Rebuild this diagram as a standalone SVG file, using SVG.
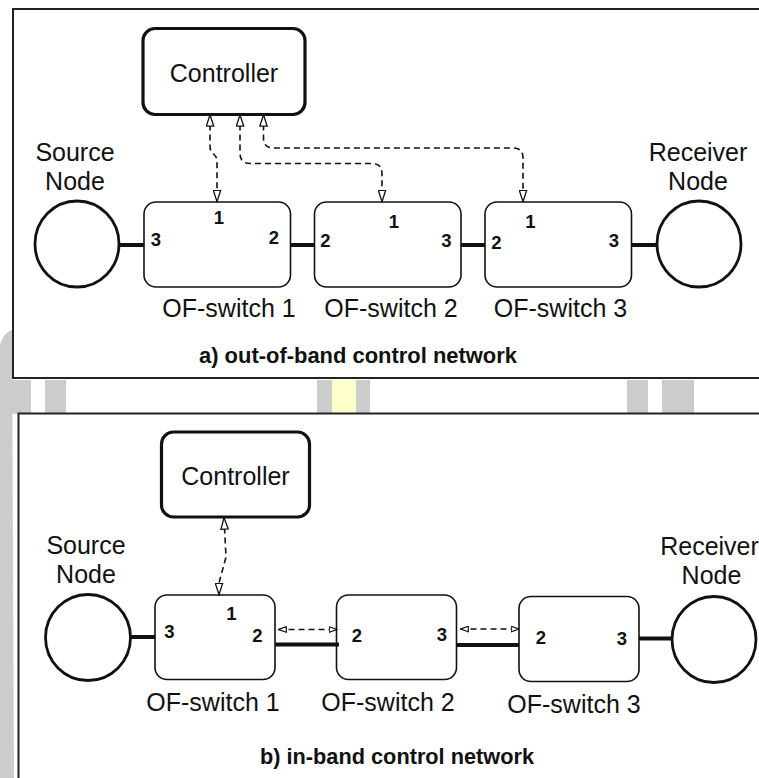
<svg xmlns="http://www.w3.org/2000/svg" width="759" height="778" viewBox="0 0 759 778">
  <style>
    .frame { fill: #ffffff; stroke: #222222; stroke-width: 2; }
    .ctrl { fill: #ffffff; stroke: #111111; stroke-width: 3.2; }
    .sw { fill: #ffffff; stroke: #111111; stroke-width: 1.6; }
    .host { fill: #ffffff; stroke: #111111; stroke-width: 2.8; }
    .link { stroke: #111111; stroke-width: 4; fill: none; }
    .ctl { fill: none; stroke: #111111; stroke-width: 1.6; stroke-dasharray: 6 4; }
    text { font-family: "Liberation Sans", Arial, sans-serif; fill: #111111; }
    .lbl { font-size: 25px; text-anchor: middle; }
    .port { font-size: 18.5px; font-weight: bold; text-anchor: middle; }
    .cap { font-size: 22px; font-weight: bold; text-anchor: middle; }
    .bar { fill: #cccccc; }
  </style>
  <defs>
    <marker id="open" viewBox="0 0 13 9" refX="12.5" refY="4.5" markerWidth="13" markerHeight="9" markerUnits="userSpaceOnUse" orient="auto-start-reverse">
      <path d="M0.8,0.8 L12.2,4.5 L0.8,8.2 Z" fill="#ffffff" stroke="#111111" stroke-width="1.3"/>
    </marker>
    <marker id="openSmall" viewBox="0 0 9 7" refX="8.5" refY="3.5" markerWidth="9" markerHeight="7" markerUnits="userSpaceOnUse" orient="auto-start-reverse">
      <path d="M0.7,0.7 L8.3,3.5 L0.7,6.3 Z" fill="#ffffff" stroke="#111111" stroke-width="1.2"/>
    </marker>
  </defs>

  <!-- background page bars -->
  <g id="background">
    <rect x="0" y="0" width="759" height="778" fill="#ffffff"/>
    <path class="bar" d="M0,345 Q4,332 12,330 L14,778 L0,778 Z"/>
    <rect class="bar" x="12" y="380" width="19" height="34"/>
    <rect class="bar" x="45" y="380" width="21" height="34"/>
    <rect class="bar" x="317" y="380" width="53" height="34"/>
    <rect x="332" y="380" width="24" height="34" fill="#ffffcc"/>
    <rect class="bar" x="627" y="380" width="21" height="34"/>
    <rect class="bar" x="662" y="380" width="32" height="34"/>
  </g>

  <!-- panel a: out-of-band -->
  <g id="panel-a">
    <rect class="frame" x="13" y="9" width="760" height="369"/>

    <g id="a-controller">
      <rect class="ctrl" x="143" y="28.5" width="162" height="86" rx="12"/>
      <text class="lbl" x="224" y="82">Controller</text>
    </g>
    <g id="a-source">
      <ellipse class="host" cx="77" cy="244" rx="42" ry="43"/>
      <text class="lbl" x="75" y="161">Source</text>
      <text class="lbl" x="75" y="190">Node</text>
    </g>
    <g id="a-receiver">
      <ellipse class="host" cx="699" cy="244" rx="42" ry="43"/>
      <text class="lbl" x="698" y="161">Receiver</text>
      <text class="lbl" x="698" y="190">Node</text>
    </g>
    <g id="a-switch1">
      <rect class="sw" x="144" y="202" width="146.5" height="85" rx="12"/>
      <text class="port" x="219" y="223.5">1</text>
      <text class="port" x="156" y="245.5">3</text>
      <text class="port" x="274" y="244">2</text>
      <text class="lbl" x="229" y="317">OF-switch 1</text>
    </g>
    <g id="a-switch2">
      <rect class="sw" x="314.5" y="202" width="146.5" height="85" rx="12"/>
      <text class="port" x="394" y="227.5">1</text>
      <text class="port" x="325.5" y="246.5">2</text>
      <text class="port" x="446.5" y="246.5">3</text>
      <text class="lbl" x="391" y="317">OF-switch 2</text>
    </g>
    <g id="a-switch3">
      <rect class="sw" x="485" y="202" width="146.5" height="85" rx="12"/>
      <text class="port" x="530.5" y="227.5">1</text>
      <text class="port" x="496.5" y="248.5">2</text>
      <text class="port" x="614" y="246.5">3</text>
      <text class="lbl" x="560.5" y="317">OF-switch 3</text>
    </g>

    <g id="a-connectors">
      <path class="link" d="M119,245 H144"/>
      <path class="link" d="M290.5,245 H314.5"/>
      <path class="link" d="M461,245 H485"/>
      <path class="link" d="M631.5,245 H657"/>
      <path class="ctl" d="M210,114.5 V146 C210,156 217,152 217,162 V202" marker-start="url(#open)" marker-end="url(#open)"/>
      <path class="ctl" d="M240,114.5 V153 Q240,163.5 250,163.5 H372 Q382,163.5 382,173.5 V202" marker-start="url(#open)" marker-end="url(#open)"/>
      <path class="ctl" d="M263.5,114.5 V138 Q263.5,148 273.5,148 H513 Q523,148 523,158 V202" marker-start="url(#open)" marker-end="url(#open)"/>
    </g>

    <text class="cap" x="358" y="363" textLength="318" lengthAdjust="spacingAndGlyphs">a) out-of-band control network</text>
  </g>

  <!-- panel b: in-band -->
  <g id="panel-b">
    <rect class="frame" x="18.5" y="413.5" width="760" height="380"/>

    <g id="b-controller">
      <rect class="ctrl" x="161.5" y="432" width="148" height="85" rx="12"/>
      <text class="lbl" x="235.5" y="485">Controller</text>
    </g>
    <g id="b-source">
      <ellipse class="host" cx="88" cy="637.5" rx="42.5" ry="43"/>
      <text class="lbl" x="86" y="554">Source</text>
      <text class="lbl" x="86" y="583">Node</text>
    </g>
    <g id="b-receiver">
      <ellipse class="host" cx="714" cy="639.5" rx="42" ry="43"/>
      <text class="lbl" x="709.5" y="555">Receiver</text>
      <text class="lbl" x="711.5" y="583.5">Node</text>
    </g>
    <g id="b-switch1">
      <rect class="sw" x="155" y="595" width="120" height="84.5" rx="12"/>
      <text class="port" x="231.5" y="620">1</text>
      <text class="port" x="169.5" y="637.5">3</text>
      <text class="port" x="257.5" y="642">2</text>
      <text class="lbl" x="213" y="711">OF-switch 1</text>
    </g>
    <g id="b-switch2">
      <rect class="sw" x="336.5" y="595" width="120" height="84.5" rx="12"/>
      <text class="port" x="357" y="642">2</text>
      <text class="port" x="442" y="641">3</text>
      <text class="lbl" x="388" y="711">OF-switch 2</text>
    </g>
    <g id="b-switch3">
      <rect class="sw" x="519" y="596.5" width="120" height="85" rx="12"/>
      <text class="port" x="541" y="643.5">2</text>
      <text class="port" x="622" y="645">3</text>
      <text class="lbl" x="574" y="712.5">OF-switch 3</text>
    </g>

    <g id="b-connectors">
      <path class="link" d="M130.5,637 H155"/>
      <path class="link" d="M275,644.5 H339"/>
      <path class="link" d="M456.5,645 H519"/>
      <path class="link" d="M639,638.5 H672"/>
      <path class="ctl" d="M224,517.5 L226,557 L219,583 V595" marker-start="url(#open)" marker-end="url(#open)"/>
      <path class="ctl" d="M278.5,629.5 H337" marker-start="url(#openSmall)" marker-end="url(#openSmall)"/>
      <path class="ctl" d="M460.5,629 H519" marker-start="url(#openSmall)" marker-end="url(#openSmall)"/>
    </g>

    <text class="cap" x="397" y="763.5" textLength="274" lengthAdjust="spacingAndGlyphs">b) in-band control network</text>
  </g>
</svg>
